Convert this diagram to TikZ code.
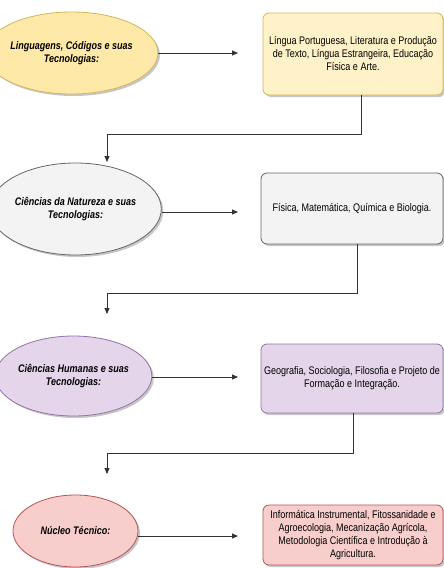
\documentclass[tikz,border=0pt]{standalone}
\usepackage{fontspec}
\setmainfont{Liberation Sans}[FakeStretch=0.82]
\usetikzlibrary{shapes.geometric,arrows.meta,shadows}
\definecolor{yelE}{HTML}{FFE9A8}
\definecolor{yelB}{HTML}{FFF1C8}
\definecolor{yelS}{HTML}{D6B656}
\definecolor{grayF}{HTML}{F3F3F3}
\definecolor{grayS}{HTML}{666666}
\definecolor{purF}{HTML}{E4D5EA}
\definecolor{purS}{HTML}{9673A6}
\definecolor{redF}{HTML}{F8CECC}
\definecolor{redS}{HTML}{B85450}
\definecolor{lineC}{HTML}{333333}
\tikzset{
  shd/.style={drop shadow={shadow xshift=2pt,shadow yshift=-2pt,opacity=0.22,fill=black}},
  area/.style={ellipse,draw,line width=0.8pt,shd,font=\fontsize{11}{13}\selectfont\bfseries\itshape,align=center,inner sep=0pt},
  subj/.style={rectangle,rounded corners=6pt,draw,line width=0.8pt,shd,font=\fontsize{11}{13}\selectfont,align=center,inner sep=0pt},
  arr/.style={draw=lineC,line width=0.9pt,-{Triangle[length=6pt,width=5pt]}}
}
\begin{document}
\begin{tikzpicture}[x=1pt,y=-1pt]
\useasboundingbox[fill=white] (0,0) rectangle (444,568);
% ellipses
\node[area,fill=yelE,draw=yelS,minimum width=133pt,minimum height=82pt] (e1) at (71.5,53) {Linguagens, Códigos e suas\\Tecnologias:};
\node[area,fill=grayF,draw=grayS,minimum width=127pt,minimum height=92pt] (e2) at (75.5,209) {Ciências da Natureza e suas\\Tecnologias:};
\node[area,fill=purF,draw=purS,minimum width=131pt,minimum height=80pt] (e3) at (73.5,376) {Ciências Humanas e suas\\Tecnologias:};
\node[area,fill=redF,draw=redS,minimum width=125pt,minimum height=72pt] (e4) at (75.5,531) {Núcleo Técnico:};
% boxes
\node[subj,fill=yelB,draw=yelS,minimum width=180pt,minimum height=82pt] (b1) at (353,54) {Língua Portuguesa, Literatura e Produção\\de Texto, Língua Estrangeira, Educação\\Física e Arte.};
\node[subj,fill=grayF,draw=grayS,minimum width=182pt,minimum height=71pt] (b2) at (352,208.5) {Física, Matemática, Química e Biologia.};
\node[subj,fill=purF,draw=purS,minimum width=182pt,minimum height=69pt] (b3) at (352,378.5) {Geografia, Sociologia, Filosofia e Projeto de\\Formação e Integração.};
\node[subj,fill=redF,draw=redS,minimum width=180pt,minimum height=60pt] (b4) at (353,535) {Informática Instrumental, Fitossanidade e\\Agroecologia, Mecanização Agrícola,\\Metodologia Científica e Introdução à\\Agricultura.};
% horizontal arrows
\coordinate (h1) at (238,53);
\coordinate (h2) at (238,212);
\coordinate (h3) at (238,377);
\coordinate (h4) at (238,536);
\draw[arr] (e1.east |- h1) -- (h1);
\draw[arr] (e2.east |- h2) -- (h2);
\draw[arr] (e3.east |- h3) -- (h3);
\draw[arr] (e4.east |- h4) -- (h4);
% elbow connectors
\coordinate (k1) at (107,134);
\coordinate (t1) at (107,162);
\coordinate (k2) at (107,293);
\coordinate (t2) at (107,314);
\coordinate (k3) at (107,453);
\coordinate (t3) at (107,474);
\draw[arr] ([xshift=8pt]b1.south) |- (k1) -- (t1);
\draw[arr] ([xshift=5pt]b2.south) |- (k2) -- (t2);
\draw[arr] ([xshift=1pt]b3.south) |- (k3) -- (t3);
\end{tikzpicture}
\end{document}
